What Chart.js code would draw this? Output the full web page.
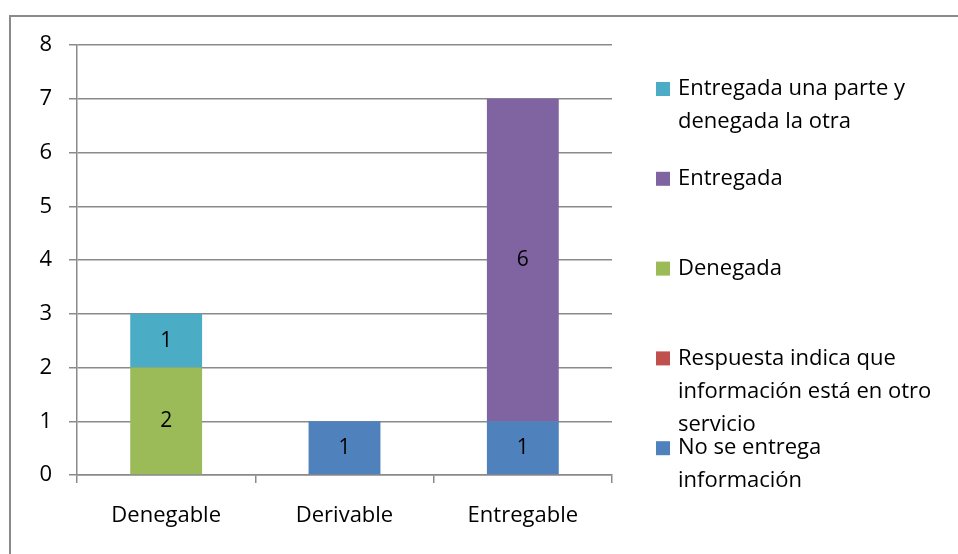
<!DOCTYPE html>
<html>
<head>
<meta charset="utf-8">
<script src="https://cdn.jsdelivr.net/npm/chart.js@4"></script>
<style>
  html, body { margin: 0; padding: 0; background: #fff; }
  .wrap { position: relative; width: 958px; height: 554px; overflow: hidden; }
  .frame { position: absolute; left: 9px; top: 15px; width: 1000px; height: 600px; border: 2px solid #8a8a8a; box-sizing: border-box; }
  canvas { position: absolute; left: 0; top: 0; }
</style>
</head>
<body>
<div class="wrap">
  <div class="frame"></div>
  <canvas id="chart" width="958" height="554"></canvas>
</div>
<script>
var categories = ['Denegable', 'Derivable', 'Entregable'];

var noEntrega = [0, 1, 1];
var otroServicio = [0, 0, 0];
var denegada = [2, 0, 0];
var entregada = [0, 0, 6];
var entregadaParte = [1, 0, 0];

// legend text as Excel wraps it
var legendLines = [
  ['No se entrega', 'información'],
  ['Respuesta indica que', 'información está en otro', 'servicio'],
  ['Denegada'],
  ['Entregada'],
  ['Entregada una parte y', 'denegada la otra']
];

var FONT = '"Open Sans", sans-serif';

var barLabels = {
  id: 'barLabels',
  afterDatasetsDraw: function (chart) {
    var c = chart.ctx;
    c.save();
    c.font = '21px ' + FONT;
    c.fillStyle = '#000';
    c.textAlign = 'center';
    c.textBaseline = 'middle';
    chart.data.datasets.forEach(function (ds, i) {
      var meta = chart.getDatasetMeta(i);
      meta.data.forEach(function (bar, j) {
        if (!ds.data[j]) return;
        c.fillText(ds.data[j], bar.x, (bar.y + bar.base) / 2);
      });
    });
    c.restore();
  }
};

var sideLegend = {
  id: 'sideLegend',
  afterDraw: function (chart) {
    var c = chart.ctx;
    var ds = chart.data.datasets;
    c.save();
    c.font = '22px ' + FONT;
    c.textBaseline = 'middle';
    c.textAlign = 'left';
    // Excel lists the stack top-down
    for (var k = 0; k < ds.length; k++) {
      var i = ds.length - 1 - k;
      var y = 89 + k * 89.8;
      c.fillStyle = ds[i].backgroundColor;
      c.fillRect(656, y - 7, 14, 14);
      c.fillStyle = '#000';
      legendLines[i].forEach(function (line, n) {
        c.fillText(line, 678, y + n * 33);
      });
    }
    c.restore();
  }
};

var ctx = document.getElementById('chart').getContext('2d');

var chart = new Chart(ctx, {
  type: 'bar',
  data: {
    labels: categories,
    datasets: [
      { label: 'No se entrega información', data: noEntrega, backgroundColor: '#4F81BD' },
      { label: 'Respuesta indica que información está en otro servicio', data: otroServicio, backgroundColor: '#C0504D' },
      { label: 'Denegada', data: denegada, backgroundColor: '#9BBB59' },
      { label: 'Entregada', data: entregada, backgroundColor: '#8064A2' },
      { label: 'Entregada una parte y denegada la otra', data: entregadaParte, backgroundColor: '#4BACC6' }
    ]
  },
  options: {
    responsive: false,
    animation: false,
    events: [],
    layout: { padding: { left: 0, top: 45, right: 346, bottom: 0 } },
    datasets: { bar: { barPercentage: 0.403, categoryPercentage: 1, borderWidth: 0 } },
    plugins: {
      legend: { display: false },
      tooltip: { enabled: false }
    },
    scales: {
      x: {
        stacked: true,
        offset: true,
        afterFit: function (s) { s.height = 79; },
        grid: {
          offset: true,
          drawOnChartArea: false,
          drawTicks: true,
          tickLength: 8,
          color: '#8a8a8a',
          lineWidth: 1.5
        },
        border: { color: '#8a8a8a', width: 1.5 },
        ticks: { color: '#000', font: { family: FONT, size: 22 }, padding: 20 }
      },
      y: {
        stacked: true,
        min: 0,
        max: 8,
        afterFit: function (s) { s.width = 77; },
        grid: { color: '#8a8a8a', lineWidth: 1.5, tickLength: 8 },
        border: { color: '#8a8a8a', width: 1.5 },
        ticks: { stepSize: 1, color: '#000', font: { family: FONT, size: 22 }, padding: 17 }
      }
    }
  },
  plugins: [barLabels, sideLegend]
});
</script>
</body>
</html>
